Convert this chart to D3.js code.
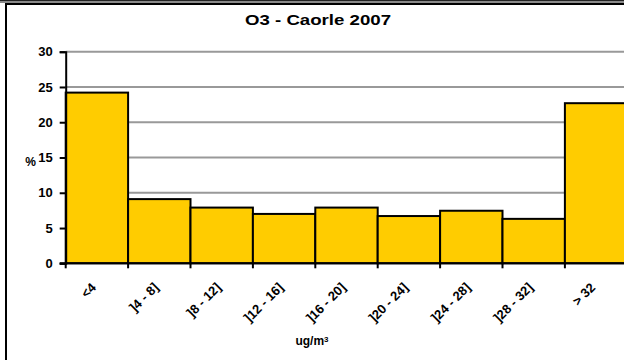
<!DOCTYPE html>
<html>
<head>
<meta charset="utf-8">
<script src="https://cdn.jsdelivr.net/npm/d3@7"></script>
<style>
	html, body { margin: 0; padding: 0; background: #fff; }
	svg { display: block; font-family: "Liberation Sans", Arial, sans-serif; }
</style>
</head>
<body>
<svg id="chart" width="624" height="360"></svg>
<script>
(() => {
	const categories = ["<4", "]4 - 8]", "]8 - 12]", "]12 - 16]", "]16 - 20]", "]20 - 24]", "]24 - 28]", "]28 - 32]", "> 32"];
	const values = [24.2, 9.1, 7.9, 7.0, 7.9, 6.7, 7.45, 6.3, 22.7];
	const yTicks = [0, 5, 10, 15, 20, 25, 30];

	const W = 624, H = 360;
	const m = { top: 51.7, left: 65.7, bottom: 263.3, right: 627.3 };

	const svg = d3.select("#chart");

	// outer frame
	svg.append("rect").attr("x", 0).attr("y", 0).attr("width", W).attr("height", 3).attr("fill", "#8a8a8a");
	svg.append("line").attr("x1", 0).attr("x2", W).attr("y1", 0.5).attr("y2", 0.5).attr("stroke", "#222");
	svg.append("rect").attr("x", 6).attr("y", 4).attr("width", W + 20).attr("height", H + 20)
		.attr("fill", "none").attr("stroke", "#000").attr("stroke-width", 2);

	const x = d3.scaleBand().domain(categories).range([m.left, m.right]).padding(0);
	const y = d3.scaleLinear().domain([0, 30]).range([m.bottom, m.top]);

	// title
	svg.append("text")
		.attr("x", 318).attr("y", 25)
		.attr("text-anchor", "middle").attr("font-size", "15px").attr("font-weight", "bold")
		.attr("textLength", 146).attr("lengthAdjust", "spacingAndGlyphs")
		.text("O3 - Caorle 2007");

	// gridlines
	svg.append("g").selectAll("line").data(yTicks.filter(d => d > 0)).join("line")
		.attr("x1", m.left).attr("x2", W)
		.attr("y1", d => y(d)).attr("y2", d => y(d))
		.attr("stroke", "#999").attr("stroke-width", 2);

	// bars
	svg.append("g").selectAll("rect").data(categories).join("rect")
		.attr("x", d => x(d))
		.attr("y", (d, i) => y(values[i]))
		.attr("width", x.bandwidth())
		.attr("height", (d, i) => y(0) - y(values[i]))
		.attr("fill", "#ffcc00")
		.attr("stroke", "#000")
		.attr("stroke-width", 2);

	// y axis
	const yAxis = svg.append("g")
		.attr("transform", `translate(${m.left},0)`)
		.call(d3.axisLeft(y).tickValues(yTicks).tickSize(6).tickPadding(7));
	yAxis.select(".domain").attr("stroke", "#000").attr("stroke-width", 2);
	yAxis.selectAll(".tick line").attr("stroke", "#000").attr("stroke-width", 2);
	yAxis.selectAll(".tick text")
		.attr("font-family", "Liberation Sans, Arial, sans-serif")
		.attr("font-size", "13px").attr("font-weight", "bold").attr("fill", "#000");

	svg.append("text")
		.attr("x", 36).attr("y", y(15) + 8)
		.attr("text-anchor", "end").attr("font-size", "12px").attr("font-weight", "bold")
		.text("%");

	// x axis
	svg.append("line")
		.attr("x1", m.left - 6).attr("x2", W)
		.attr("y1", y(0)).attr("y2", y(0))
		.attr("stroke", "#000").attr("stroke-width", 2);
	const bounds = categories.map(d => x(d)).concat([m.right]);
	svg.append("g").selectAll("line").data(bounds).join("line")
		.attr("x1", d => d).attr("x2", d => d)
		.attr("y1", y(0)).attr("y2", y(0) + 5)
		.attr("stroke", "#000").attr("stroke-width", 2);

	svg.append("g").selectAll("text").data(categories).join("text")
		.attr("transform", d => `translate(${x(d) + x.bandwidth() / 2},${y(0) + 25}) rotate(-45)`)
		.attr("text-anchor", "end")
		.attr("font-size", "13px").attr("font-weight", "bold")
		.text(d => d);

	const xt = svg.append("text")
		.attr("x", 312).attr("y", 345)
		.attr("text-anchor", "middle").attr("font-size", "12px").attr("font-weight", "bold");
	xt.append("tspan").text("ug/m");
	xt.append("tspan").attr("font-size", "8px").attr("dy", -3).text("3");
})();
</script>
</body>
</html>
